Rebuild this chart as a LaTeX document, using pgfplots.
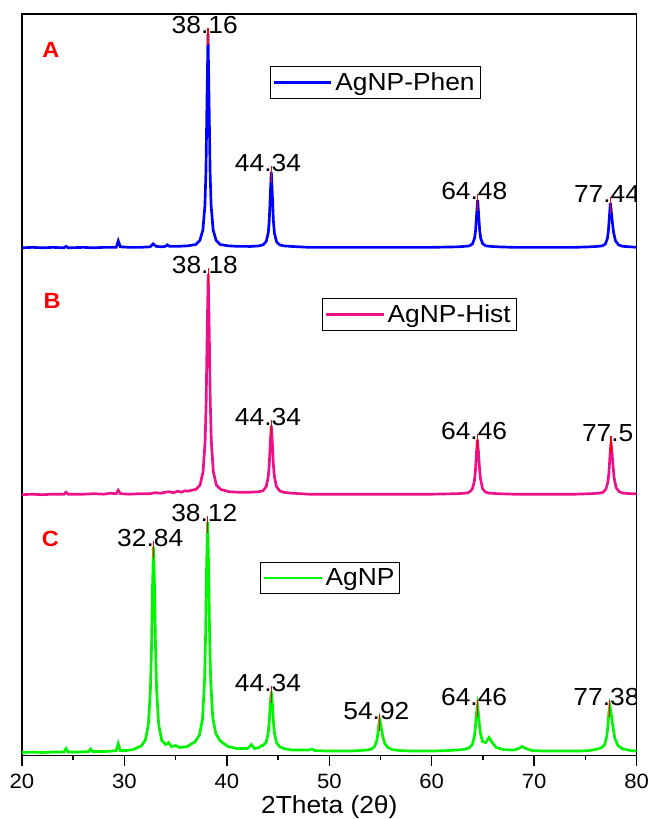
\documentclass[border=0pt]{standalone}
\usepackage{pgfplots}
\pgfplotsset{compat=1.18}
\usepackage{fontspec}
\setmainfont[FakeStretch=1.07]{Liberation Sans}
\newcommand\lab{\fontsize{18.5}{22}\selectfont}
\definecolor{cA}{RGB}{0,0,255}
\definecolor{cB}{RGB}{236,17,136}
\definecolor{cC}{RGB}{0,245,0}
\definecolor{cR}{RGB}{255,0,0}
\tikzset{peak/.style={font=\lab, anchor=base, xshift=-2.5pt},
  mk/.style={cR, line width=0.8pt},
  letter/.style={font=\fontsize{16.5}{19}\selectfont\bfseries, text=cR}}
\begin{document}
\begin{tikzpicture}
\pgfplotsset{every axis/.append style={scale only axis, width=461.25pt, height=556.5pt,
  xmin=20, xmax=80, ymin=0, ymax=742,
  legend style={anchor=north west, draw=black, line width=0.6pt, font=\lab, inner xsep=2pt, inner ysep=2.5pt, fill=white},
  legend image code/.code={\draw[#1,line width=2pt] (0pt,0pt) -- (43pt,0pt);}}}
% ---------- C (main axis with frame) ----------
\begin{axis}[name=main, axis line style={line width=1.1pt},
  xtick={20,30,...,80}, minor x tick num=1, xtick pos=left, tick align=outside,
  ytick=\empty, major tick length=7.5pt, minor tick length=3pt,
  tick style={line width=1.1pt, black},
  xticklabel style={font=\fontsize{15.5}{18}\selectfont, inner sep=1pt, yshift=-5.5pt},
  /pgf/number format/assume math mode=true,
  xlabel={2Theta (2θ)},
  xlabel style={font=\lab, inner sep=0pt, at={(axis description cs:0.5,0)}, anchor=center, yshift=-39pt},
  legend style={at={(rel axis cs:0.387,0.261)}}]
\addplot[cC, line width=2pt] coordinates {
(20,3) (21,3.5) (22,3) (23,3.5) (24.1,3.5) (24.3,7) (24.5,3.5) (25.5,3.5) (26.5,4) (26.7,6.5) (26.9,4) (28,4) (28.8,4.5) (29.2,5) (29.4,12) (29.6,5) (30.2,5) (30.84,6) (31.64,9.6) (32.04,15.2) (32.34,31.4) (32.54,66.4) (32.64,106) (32.74,167.8) (32.84,209) (32.94,167.8) (33.04,106) (33.14,66.4) (33.34,31.4) (33.64,15.2) (34.04,11) (34.3,13) (34.6,9) (35.0,10) (35.4,8) (36.12,9) (36.92,14) (37.32,20.6) (37.62,36) (37.82,75) (37.92,118.5) (38.02,187.8) (38.12,234) (38.22,187.8) (38.32,118.5) (38.42,75) (38.62,38) (38.92,22) (39.32,15) (39.7,12) (40.12,9) (41,7) (42,7) (42.4,11) (42.7,7) (43.14,8) (43.4,10) (43.54,10) (43.84,13.4) (44.04,22.8) (44.14,34.5) (44.24,52.8) (44.34,64) (44.44,52.8) (44.54,34.5) (44.64,22.8) (44.84,13) (45.14,9) (45.54,7) (46.34,5.5) (48,5.5) (48.3,6.5) (48.6,5) (50,4.5) (52,4.5) (52.92,5) (53.72,5.5) (54.12,6.5) (54.42,9) (54.62,14.2) (54.72,20.5) (54.82,30) (54.92,36) (55.02,31) (55.12,25) (55.22,19) (55.42,12) (55.72,8) (56.12,6) (56.92,5) (58,4.5) (60,4.5) (61.5,5) (62.46,5.5) (63.26,6.3) (63.66,7.8) (63.96,11) (64.16,19) (64.26,28) (64.36,42) (64.46,50) (64.56,42) (64.66,30) (64.76,22) (64.96,14) (65.26,13) (65.6,18) (65.9,13) (66.3,8) (67,6) (68,5.5) (68.5,7) (68.8,9) (69.2,7) (69.8,5) (71,4.5) (73,4.5) (74.5,4.5) (75.38,5) (76.18,6.5) (76.58,8) (76.88,11) (77.08,19) (77.18,28) (77.28,42) (77.38,50) (77.48,45) (77.58,37) (77.68,29) (77.88,17) (78.18,10) (78.58,7) (79.38,5) (80,4.5)
};
\addlegendentry{AgNP}
\addplot[mk, forget plot] coordinates {(32.84,198) (32.84,215)};
\addplot[mk, forget plot] coordinates {(38.12,223) (38.12,240)};
\addplot[mk, forget plot] coordinates {(44.34,53) (44.34,70)};
\addplot[mk, forget plot] coordinates {(54.92,25) (54.92,42)};
\addplot[mk, forget plot] coordinates {(64.46,39) (64.46,56)};
\addplot[mk, forget plot] coordinates {(77.38,39) (77.38,56)};
\node[peak] at (axis cs:32.84,209) {32.84};
\node[peak] at (axis cs:38.12,234) {38.12};
\node[peak] at (axis cs:44.34,64) {44.34};
\node[peak] at (axis cs:54.92,36) {54.92};
\node[peak] at (axis cs:64.46,50) {64.46};
\node[peak] at (axis cs:77.38,50) {77.38};
\node[letter] at (rel axis cs:0.046,0.292) {C};
\end{axis}
% ---------- B ----------
\begin{axis}[hide axis, legend style={at={(rel axis cs:0.488,0.617)}}]
\addplot[cB, line width=2pt] coordinates {
(20,261) (21,261.5) (22,261) (23,261.5) (24.1,261.5) (24.3,263.5) (24.5,261.5) (26,261.5) (27,262) (28,261.5) (28.6,262.5) (29.2,262) (29.4,265.5) (29.6,262) (30.5,261.5) (31.5,262) (32.5,262) (33,263) (33.5,262.5) (34.3,264) (34.8,263) (35.2,264.5) (35.6,263.5) (35.9,265) (36.18,264.5) (36.98,266.4) (37.38,270.5) (37.68,284) (37.88,314.7) (37.98,353.6) (38.08,425.2) (38.18,482) (38.28,425.2) (38.38,353.6) (38.48,314.7) (38.68,284) (38.98,270.5) (39.38,266.4) (40.18,264) (41,263.5) (42,263.5) (42.34,263.5) (43.14,264) (43.54,265) (43.84,269.2) (44.04,279) (44.14,291) (44.24,313.3) (44.34,330) (44.44,313.3) (44.54,291) (44.64,279) (44.84,269.2) (45.14,265) (45.54,263.4) (46.34,262.5) (48,261.5) (50,261.5) (52,261.5) (54,261.5) (56,261.5) (58,261.5) (60,261.5) (62.46,262) (63.26,262.5) (63.66,263.4) (63.96,266.7) (64.16,274.4) (64.26,284) (64.36,302) (64.46,316) (64.56,304) (64.66,288) (64.76,277) (64.96,267) (65.26,263.5) (65.66,262.5) (66.46,262) (68,261.5) (70,261.5) (72,261.5) (74,261.5) (75.5,262) (76.3,262.5) (76.7,263.3) (77.0,266.5) (77.2,273.9) (77.3,283.2) (77.4,300.4) (77.5,314) (77.6,303) (77.7,290) (77.8,278) (78.0,268) (78.3,264) (78.7,262.5) (79.5,262) (80,262)
};
\addlegendentry{AgNP-Hist}
\addplot[mk, forget plot] coordinates {(38.18,471) (38.18,488)};
\addplot[mk, forget plot] coordinates {(44.34,319) (44.34,336)};
\addplot[mk, forget plot] coordinates {(64.46,305) (64.46,322)};
\addplot[mk, forget plot] coordinates {(77.5,303) (77.5,320)};
\node[peak] at (axis cs:38.18,482) {38.18};
\node[peak] at (axis cs:44.34,330) {44.34};
\node[peak] at (axis cs:64.46,316) {64.46};
\node[peak] at (axis cs:77.5,314) {77.5};
\node[letter] at (rel axis cs:0.049,0.613) {B};
\end{axis}
% ---------- A ----------
\begin{axis}[hide axis, legend style={at={(rel axis cs:0.403,0.930)}}]
\addplot[cA, line width=2pt] coordinates {
(20,508) (21,508.5) (22,508) (23,508.5) (24.1,508) (24.3,509.5) (24.5,508) (26,508.5) (27,508) (28,508.5) (29.2,508.5) (29.4,515) (29.6,509) (30.5,508.5) (31.5,508.5) (32.5,509) (32.8,512) (33.1,509.5) (33.6,509) (34.0,509.5) (34.2,511) (34.4,509.5) (35.2,509.5) (36.16,510) (36.96,511.3) (37.36,515.3) (37.66,525.8) (37.86,550.8) (37.96,585) (38.06,656) (38.16,722) (38.26,656) (38.36,585) (38.46,550.8) (38.66,525.8) (38.96,515.3) (39.36,511.3) (40.16,510) (41,509.5) (42.34,509.4) (43.14,510) (43.54,511) (43.84,514.3) (44.04,523) (44.14,535.4) (44.24,560.6) (44.34,584) (44.44,560.6) (44.54,535.4) (44.64,523) (44.84,514.3) (45.14,511) (45.54,510) (46.34,509.4) (48,508.5) (50,508.5) (52,508.5) (54,508.5) (56,508.5) (58,508.5) (60,508.5) (62.48,509) (63.28,509.5) (63.68,510) (63.98,512) (64.18,517.6) (64.28,525.3) (64.38,541.2) (64.48,556) (64.58,541.2) (64.68,525.3) (64.78,517.6) (64.98,512) (65.28,510) (65.68,509.5) (66.48,509) (68,508.5) (70,508.5) (72,508.5) (74,508.5) (75.44,509) (76.24,509.5) (76.64,510) (76.94,511.7) (77.14,517) (77.24,524.2) (77.34,539) (77.44,553) (77.54,543) (77.64,533) (77.74,524) (77.94,515) (78.24,511) (78.64,509.5) (79.44,509) (80,508.5)
};
\addlegendentry{AgNP-Phen}
\addplot[mk, forget plot] coordinates {(38.16,711) (38.16,728)};
\addplot[mk, forget plot] coordinates {(44.34,573) (44.34,590)};
\addplot[mk, forget plot] coordinates {(64.48,545) (64.48,562)};
\addplot[mk, forget plot] coordinates {(77.44,542) (77.44,559)};
\node[peak] at (axis cs:38.16,722) {38.16};
\node[peak] at (axis cs:44.34,584) {44.34};
\node[peak] at (axis cs:64.48,556) {64.48};
\node[peak] at (axis cs:77.44,553) {77.44};
\node[letter] at (rel axis cs:0.047,0.951) {A};
\end{axis}
\coordinate (bl) at ([xshift=-16.5pt,yshift=-47.25pt]main.south west);
\coordinate (tr) at ([xshift=10.5pt,yshift=10.5pt]main.north east);
\path (bl) rectangle (tr);
\end{tikzpicture}
\end{document}
